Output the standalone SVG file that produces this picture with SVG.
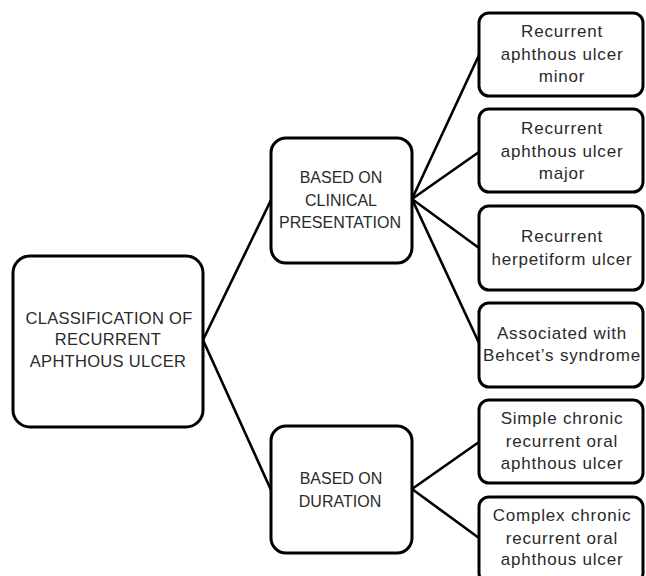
<svg xmlns="http://www.w3.org/2000/svg" width="646" height="576" viewBox="0 0 646 576">
<style>
.box{fill:#fff;stroke:#000;stroke-width:3}
.cap{font-family:"Liberation Sans",Arial,sans-serif;font-size:16px;fill:#2a2a2a;text-anchor:middle}
.low{font-family:"Liberation Sans",Arial,sans-serif;font-size:17px;letter-spacing:0.8px;fill:#2a2a2a;text-anchor:middle}
.con{stroke:#000;stroke-width:2.6;fill:none;stroke-linecap:round}
</style>
<rect width="646" height="576" fill="#fff"/>
<g id="connectors">
<line class="con" x1="203" y1="340" x2="271" y2="200"/>
<line class="con" x1="203" y1="340" x2="271" y2="490"/>
<line class="con" x1="412" y1="199" x2="479" y2="55"/>
<line class="con" x1="412" y1="199" x2="479" y2="152"/>
<line class="con" x1="412" y1="199" x2="479" y2="248"/>
<line class="con" x1="412" y1="199" x2="479" y2="343"/>
<line class="con" x1="412" y1="489" x2="479" y2="442"/>
<line class="con" x1="412" y1="489" x2="479" y2="538"/>
</g>
<g id="root">
<rect class="box" x="13" y="256" width="190" height="171" rx="17"/>
<text class="cap" x="109" y="323.5" style="font-size:16.5px;letter-spacing:0.3px">CLASSIFICATION OF</text>
<text class="cap" x="108" y="345" style="font-size:16.5px;letter-spacing:0.3px">RECURRENT</text>
<text class="cap" x="108" y="367" style="font-size:16.5px;letter-spacing:0.3px">APHTHOUS ULCER</text>
</g>
<g id="clinical">
<rect class="box" x="271" y="138" width="141" height="125" rx="15"/>
<text class="cap" x="341" y="183">BASED ON</text>
<text class="cap" x="341" y="205.5">CLINICAL</text>
<text class="cap" x="340" y="227.5">PRESENTATION</text>
</g>
<g id="duration">
<rect class="box" x="271" y="426" width="141" height="127" rx="15"/>
<text class="cap" x="341" y="484">BASED ON</text>
<text class="cap" x="340" y="506.5">DURATION</text>
</g>
<g id="minor">
<rect class="box" x="479" y="13" width="164" height="83" rx="10"/>
<text class="low" x="562" y="37">Recurrent</text>
<text class="low" x="562" y="60">aphthous ulcer</text>
<text class="low" x="562" y="82">minor</text>
</g>
<g id="major">
<rect class="box" x="479" y="109" width="164" height="83" rx="10"/>
<text class="low" x="562" y="133.5">Recurrent</text>
<text class="low" x="562" y="156.5">aphthous ulcer</text>
<text class="low" x="562" y="178.5">major</text>
</g>
<g id="herpetiform">
<rect class="box" x="479" y="206" width="164" height="84" rx="10"/>
<text class="low" x="562" y="242">Recurrent</text>
<text class="low" x="562" y="265">herpetiform ulcer</text>
</g>
<g id="behcet">
<rect class="box" x="479" y="303" width="164" height="84" rx="10"/>
<text class="low" x="562" y="338.5">Associated with</text>
<text class="low" x="562" y="361">Behcet’s syndrome</text>
</g>
<g id="simple">
<rect class="box" x="479" y="400" width="164" height="83" rx="10"/>
<text class="low" x="562" y="423.5">Simple chronic</text>
<text class="low" x="562" y="446.5">recurrent oral</text>
<text class="low" x="562" y="468.5">aphthous ulcer</text>
</g>
<g id="complex">
<rect class="box" x="479" y="497" width="164" height="86" rx="10"/>
<text class="low" x="562" y="521">Complex chronic</text>
<text class="low" x="562" y="543.5">recurrent oral</text>
<text class="low" x="562" y="565">aphthous ulcer</text>
</g>
</svg>
